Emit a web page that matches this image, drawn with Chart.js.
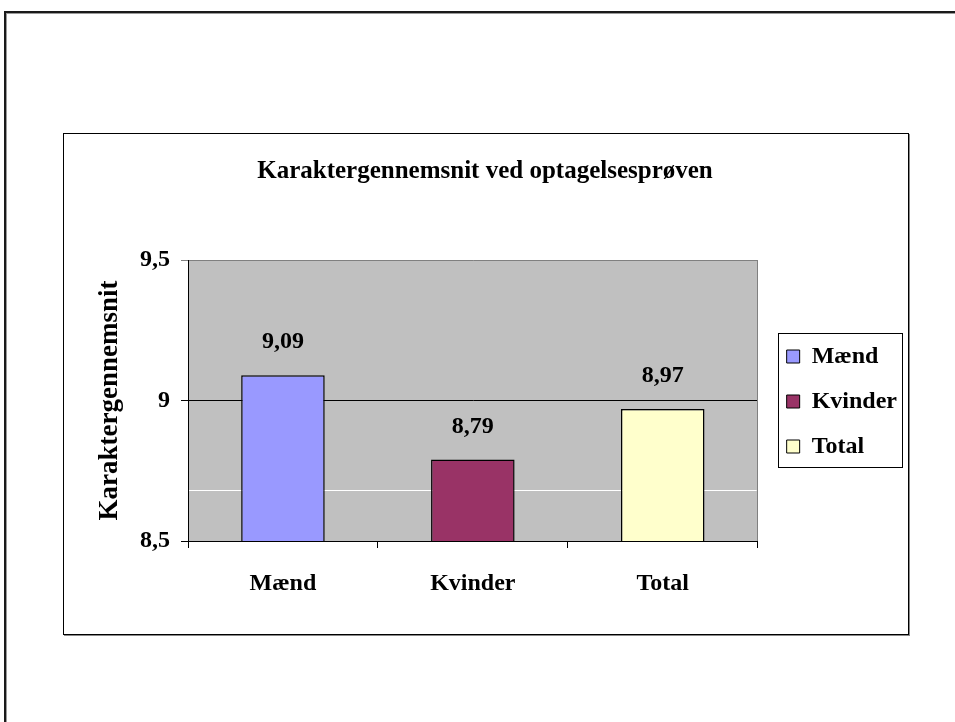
<!DOCTYPE html>
<html>
<head>
<meta charset="utf-8">
<script src="https://cdn.jsdelivr.net/npm/chart.js@4.4.1/dist/chart.umd.min.js"></script>
<style>
  html, body { margin: 0; padding: 0; background: #fff; overflow: hidden; width: 955px; height: 722px; }
  #page { position: relative; width: 955px; height: 722px; overflow: hidden; }
  .ln { position: absolute; }
  #topDark { left: 4px; top: 11px; width: 951px; height: 2px; background: #1a1a1a; }
  #topLight { left: 6px; top: 13px; width: 949px; height: 1px; background: #9a9a9a; }
  #leftDark { left: 4px; top: 11px; width: 2px; height: 711px; background: #1a1a1a; }
  #leftLight { left: 6px; top: 13px; width: 1px; height: 709px; background: #9a9a9a; }
  #frame { position: absolute; left: 63px; top: 133px; width: 844px; height: 500px;
           border: 1px solid #000; box-shadow: 1px 1px 0 #888; }
  #c { position: absolute; left: 0; top: 0; }
</style>
</head>
<body>
<div id="page">
  <div class="ln" id="topDark"></div>
  <div class="ln" id="topLight"></div>
  <div class="ln" id="leftDark"></div>
  <div class="ln" id="leftLight"></div>
  <div id="frame"></div>
  <canvas id="c" width="955" height="722"></canvas>
</div>
<script>
// ---- data ----
const categories = ['Mænd', 'Kvinder', 'Total'];
const values = [9.09, 8.79, 8.97];
const yTicks = [8.5, 9, 9.5];
const whiteLines = [8.68];
const chartTitle = 'Karaktergennemsnit ved optagelsesprøven';
const yTitle = 'Karaktergennemsnit';

// ---- styles ----
const barColors = ['#9999FF', '#993366', '#FFFFCC'];
const FONT = 'Liberation Serif';
const fmt = v => String(v).replace('.', ',');

const plotBg = {
  id: 'plotBg',
  beforeDraw(chart) {
    const {ctx, chartArea: a} = chart;
    ctx.save();
    ctx.fillStyle = '#C0C0C0';
    ctx.fillRect(a.left, a.top, a.right - a.left, a.bottom - a.top);
    ctx.restore();
  },
  beforeDatasetsDraw(chart) {
    const {ctx, chartArea: a, scales} = chart;
    ctx.save();
    ctx.lineWidth = 1;
    ctx.strokeStyle = '#FFFFFF';
    whiteLines.forEach(v => {
      const y = Math.round(scales.y.getPixelForValue(v)) + 0.5;
      ctx.beginPath(); ctx.moveTo(a.left + 1, y); ctx.lineTo(a.right - 1, y); ctx.stroke();
    });
    ctx.strokeStyle = '#808080';
    const xr = Math.round(a.right) - 0.5;
    ctx.beginPath(); ctx.moveTo(xr, a.top); ctx.lineTo(xr, a.bottom); ctx.stroke();
    ctx.restore();
  },
  afterDatasetsDraw(chart) {
    const {ctx} = chart;
    const meta = chart.getDatasetMeta(0);
    ctx.save();
    ctx.font = 'bold 24px "' + FONT + '"';
    ctx.fillStyle = '#000';
    ctx.textAlign = 'center';
    ctx.textBaseline = 'middle';
    meta.data.forEach((bar, i) => {
      ctx.fillText(fmt(chart.data.datasets[0].data[i]), bar.x, bar.y - 33);
    });
    ctx.restore();
  },
  afterDraw(chart) {
    const lg = chart.legend;
    if (!lg || !lg.legendHitBoxes || !lg.legendHitBoxes.length) return;
    const hb = lg.legendHitBoxes;
    const {ctx} = chart;
    const left = Math.round(hb[0].left) - 9 + 0.5;
    const right = Math.round(Math.max(...hb.map(h => h.left + h.width))) + 5 + 0.5;
    const top = Math.round(hb[0].top) - 12 + 0.5;
    const last = hb[hb.length - 1];
    const bottom = Math.round(last.top + last.height) + 8 + 0.5;
    ctx.save();
    ctx.strokeStyle = '#000';
    ctx.lineWidth = 1;
    ctx.strokeRect(left, top, right - left, bottom - top);
    ctx.restore();
  }
};

new Chart(document.getElementById('c'), {
  type: 'bar',
  plugins: [plotBg],
  data: {
    labels: categories,
    datasets: [{
      data: values,
      backgroundColor: barColors,
      borderColor: '#000',
      borderWidth: 1.5,
      borderSkipped: false,
      categoryPercentage: 1,
      barPercentage: 0.44
    }]
  },
  options: {
    responsive: false,
    animation: false,
    devicePixelRatio: 1,
    layout: { padding: { left: 64, top: 134, right: 49, bottom: 53 } },
    plugins: {
      tooltip: { enabled: false },
      title: {
        display: true,
        text: chartTitle,
        color: '#000',
        font: { family: FONT, size: 25, weight: 'bold' },
        padding: { top: 23, bottom: 73 }
      },
      legend: {
        position: 'right',
        labels: {
          color: '#000',
          font: { family: FONT, size: 24, weight: 'bold' },
          boxWidth: 13,
          boxHeight: 13,
          padding: 21,
          generateLabels(chart) {
            return chart.data.labels.map((l, i) => ({
              text: l,
              fillStyle: barColors[i],
              strokeStyle: '#000',
              lineWidth: 1,
              hidden: false,
              index: i
            }));
          }
        },
        onClick: () => {}
      }
    },
    scales: {
      x: {
        grid: { display: true, offset: true, drawOnChartArea: false, tickLength: 7, color: '#000' },
        border: { display: true, color: '#000', width: 1 },
        ticks: { color: '#000', font: { family: FONT, size: 24, weight: 'bold' }, padding: 21 },
        afterFit(s) { s.height = 128; }
      },
      y: {
        min: 8.5,
        max: 9.5,
        afterBuildTicks(s) { s.ticks = yTicks.map(v => ({ value: v })); },
        grid: {
          tickLength: 7,
          color: ctx => (ctx.tick && ctx.tick.value === 9.5) ? '#808080' : '#000'
        },
        border: { display: true, color: '#000', width: 1 },
        ticks: {
          color: '#000',
          font: { family: FONT, size: 24, weight: 'bold' },
          padding: 11,
          callback: v => fmt(v)
        },
        title: {
          display: true,
          text: yTitle,
          color: '#000',
          font: { family: FONT, size: 27, weight: 'bold' },
          padding: { top: 30, bottom: 0 }
        },
        afterFit(s) { s.width = 124; }
      },
      y2: {
        position: 'right',
        display: true,
        grid: { display: false, drawTicks: false },
        border: { display: false },
        ticks: { display: false },
        afterFit(s) { s.width = 8; }
      }
    }
  }
});
</script>
</body>
</html>
